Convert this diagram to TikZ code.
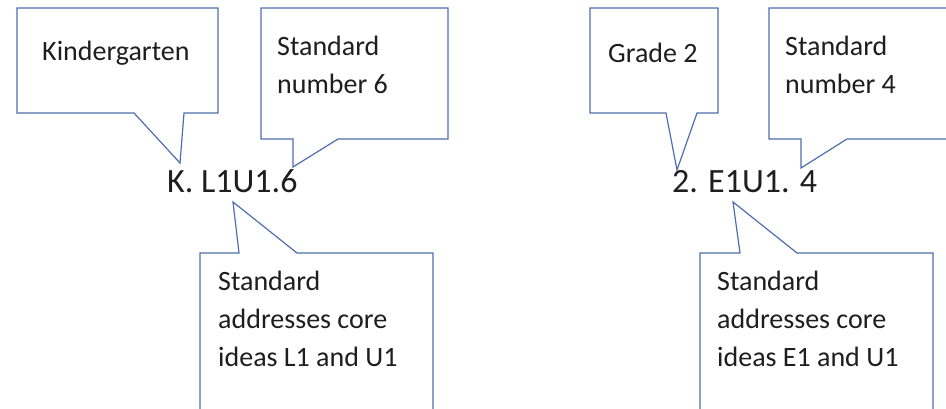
\documentclass[tikz,border=0pt]{standalone}
\usepackage{fontspec}
\setmainfont{Carlito}
\definecolor{callline}{RGB}{79,110,175}
\definecolor{txt}{RGB}{30,30,30}
\begin{document}
\begin{tikzpicture}[x=1pt,y=-1pt,
  callout/.style={draw=callline, line width=1.2pt, fill=white, line join=miter},
  lbl/.style={anchor=base west, inner sep=0pt, font=\fontsize{28}{38}\selectfont, text=txt},
  code/.style={anchor=base west, inner sep=0pt, font=\fontsize{34}{40}\selectfont, text=txt}]
\useasboundingbox (0,0) rectangle (946,408);
\clip (0,0) rectangle (946,408);
% callouts, left group
\draw[callout] (17,8) -- (218,8) -- (218,113) -- (184,113) -- (180,163) -- (134,113) -- (17,113) -- cycle;
\draw[callout] (261,8) -- (448,8) -- (448,139) -- (338,139) -- (293,167) -- (293,139) -- (261,139) -- cycle;
\draw[callout] (200,253) -- (239,253) -- (233,202) -- (297,253) -- (433,253) -- (433,430) -- (200,430) -- cycle;
% callouts, right group
\draw[callout] (590,8) -- (718,8) -- (718,113) -- (697,113) -- (677,170) -- (666,113) -- (590,113) -- cycle;
\draw[callout] (769,8) -- (960,8) -- (960,139) -- (847,139) -- (801,168) -- (801,139) -- (769,139) -- cycle;
\draw[callout] (700,253) -- (740,253) -- (733,202) -- (797,253) -- (933,253) -- (933,430) -- (700,430) -- cycle;
% texts, left
\node[lbl] (kg) at (42,60) {Kindergarten};
\node[lbl] (sn6a) at (277,55) {Standard};
\node[lbl] (sn6b) at (277,93) {number 6};
\node[code] (kcode) at (167,192) {K. L1U1.6};
\node[lbl] (la) at (218,290) {Standard};
\node[lbl] (lb) at (218,328) {addresses core};
\node[lbl] (lc) at (218,366) {ideas L1 and U1};
% texts, right
\node[lbl] (g2) at (608,62) {Grade 2};
\node[lbl] (sn4a) at (785,55) {Standard};
\node[lbl] (sn4b) at (785,93) {number 4};
\node[code] (ecode) at (672,192) {2. E1U1. 4};
\node[lbl] (ra) at (717,290) {Standard};
\node[lbl] (rb) at (717,328) {addresses core};
\node[lbl] (rc) at (717,366) {ideas E1 and U1};
\end{tikzpicture}
\end{document}
